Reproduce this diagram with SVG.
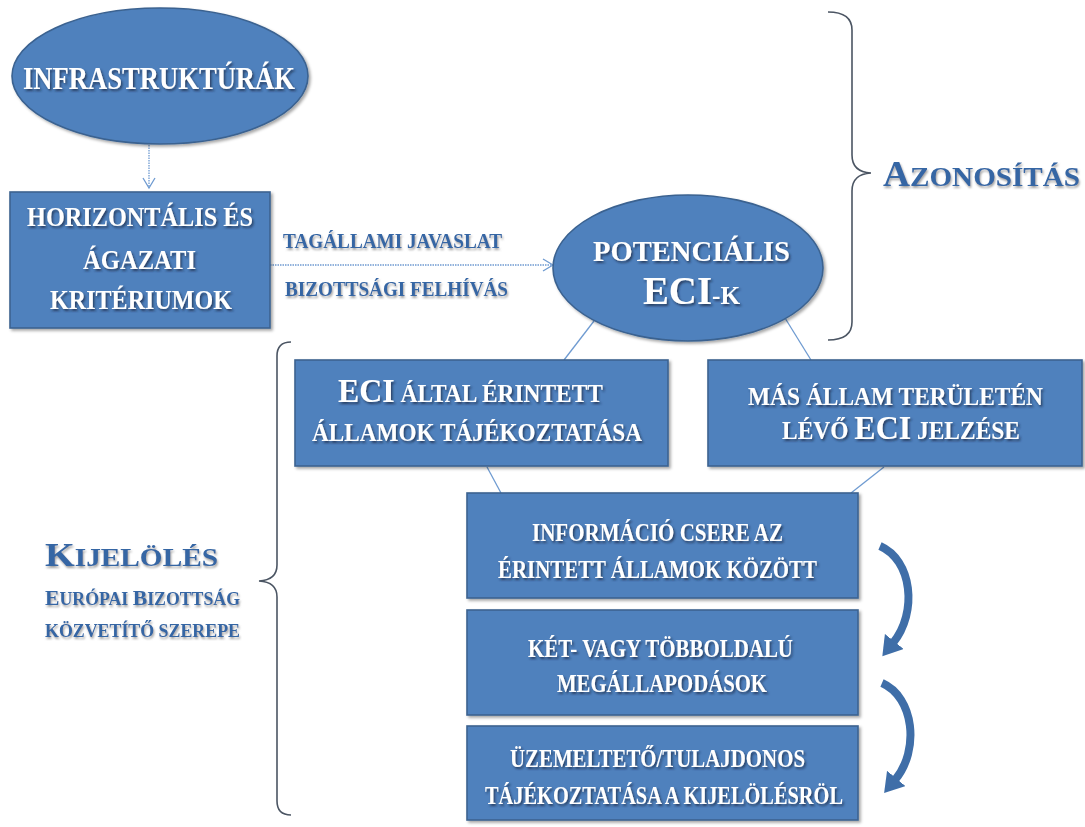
<svg xmlns="http://www.w3.org/2000/svg" width="1085" height="827" viewBox="0 0 1085 827">
<style>
.node{fill:#4f81bd;stroke:#3b6290;stroke-width:1.6}
.wt{fill:#ffffff;font-family:"Liberation Serif",serif;font-weight:bold;filter:url(#tsh)}
.bt{fill:#3566a4;font-family:"Liberation Serif",serif;font-weight:bold;filter:url(#bsh)}
.conn{fill:none;stroke:#6f9bd1;stroke-width:1.3}
.dot{fill:none;stroke:#6f9bd1;stroke-width:1.3;stroke-dasharray:1.5 1}
.brace{fill:none;stroke:#4b5563;stroke-width:1.6}
.curve{fill:none;stroke:#3f6ea8;stroke-width:8}
</style>
<defs>
<filter id="sh" x="-10%" y="-10%" width="130%" height="130%">
<feDropShadow dx="2" dy="2" stdDeviation="1.5" flood-color="#000" flood-opacity="0.35"/>
</filter>
<filter id="tsh" x="-5%" y="-20%" width="115%" height="150%">
<feDropShadow dx="1.5" dy="2" stdDeviation="1" flood-color="#1a2b44" flood-opacity="0.75"/>
</filter>
<filter id="bsh" x="-5%" y="-20%" width="115%" height="150%">
<feDropShadow dx="1" dy="2" stdDeviation="0.8" flood-color="#8a8a8a" flood-opacity="0.8"/>
</filter>
<marker id="open" markerUnits="userSpaceOnUse" markerWidth="14" markerHeight="14" viewBox="0 0 14 14" refX="12" refY="7" orient="auto">
<path d="M2,1 L12,7 L2,13" fill="none" stroke="#6f9bd1" stroke-width="1.3"/>
</marker>
<marker id="cah" markerUnits="userSpaceOnUse" markerWidth="20" markerHeight="24" viewBox="0 0 20 24" refX="2" refY="12" orient="auto">
<path d="M0,0 L19,12 L0,24 z" fill="#3f6ea8"/>
</marker>
</defs>

<g id="connectors">
<path class="dot" d="M149,145 L149,188" marker-end="url(#open)"/>
<path class="dot" d="M270,265 L553,265" marker-end="url(#open)"/>
<path class="conn" d="M594,321 L564,360"/>
<path class="conn" d="M785,318 L811,360"/>
<path class="conn" d="M487,467 L501,493"/>
<path class="conn" d="M884,467 L851,493"/>
<path class="curve" d="M880,546 C912,560 918,612 893,643" marker-end="url(#cah)"/>
<path class="curve" d="M882,683 C914,697 920,750 895,780" marker-end="url(#cah)"/>
<path class="brace" d="M828,12 Q852,12 852,30 L852,155 Q852,172 871,173 Q852,174 852,191 L852,322 Q852,340 828,340"/>
<path class="brace" d="M291,342 Q277,342 277,356 L277,565 Q277,580 259,581 Q277,582 277,597 L277,801 Q277,815 291,815"/>
</g>

<g id="infrastrukturak">
<ellipse class="node" cx="160" cy="76" rx="148" ry="68" filter="url(#sh)"/>
<text class="wt" x="23" y="89" font-size="31" textLength="272" lengthAdjust="spacingAndGlyphs">INFRASTRUKTÚRÁK</text>
</g>

<g id="kriteriumok">
<rect class="node" x="10" y="192" width="260" height="136" filter="url(#sh)"/>
<text class="wt" x="27" y="226" font-size="27" textLength="226" lengthAdjust="spacingAndGlyphs">HORIZONTÁLIS ÉS</text>
<text class="wt" x="83" y="269" font-size="27" textLength="113" lengthAdjust="spacingAndGlyphs">ÁGAZATI</text>
<text class="wt" x="50" y="309" font-size="27" textLength="182" lengthAdjust="spacingAndGlyphs">KRITÉRIUMOK</text>
</g>

<g id="arrow-labels">
<text class="bt" x="283" y="248" font-size="21" textLength="219" lengthAdjust="spacingAndGlyphs">TAGÁLLAMI JAVASLAT</text>
<text class="bt" x="285" y="296" font-size="21" textLength="223" lengthAdjust="spacingAndGlyphs">BIZOTTSÁGI FELHÍVÁS</text>
</g>

<g id="potencialis">
<ellipse class="node" cx="688" cy="268" rx="135" ry="73" filter="url(#sh)"/>
<text class="wt" x="593" y="261" font-size="30" textLength="197" lengthAdjust="spacingAndGlyphs">POTENCIÁLIS</text>
<text class="wt" x="643" y="304" font-size="40" textLength="97" lengthAdjust="spacingAndGlyphs">ECI<tspan font-size="26">-K</tspan></text>
</g>

<g id="azonositas">
<text class="bt" x="883" y="186" font-size="36" textLength="197" lengthAdjust="spacingAndGlyphs">A<tspan font-size="28">ZONOSÍTÁS</tspan></text>
</g>

<g id="kijeloles">
<text class="bt" x="45" y="566" font-size="34" textLength="173" lengthAdjust="spacingAndGlyphs">K<tspan font-size="26">IJELÖLÉS</tspan></text>
<text class="bt" x="45" y="605" font-size="22" textLength="195" lengthAdjust="spacingAndGlyphs">E<tspan font-size="18">URÓPAI </tspan>B<tspan font-size="18">IZOTTSÁG</tspan></text>
<text class="bt" x="45" y="637" font-size="18" textLength="195" lengthAdjust="spacingAndGlyphs">KÖZVETÍTŐ SZEREPE</text>
</g>

<g id="eci-altal">
<rect class="node" x="295" y="360" width="373" height="106" filter="url(#sh)"/>
<text class="wt" x="338" y="402" font-size="34" textLength="265" lengthAdjust="spacingAndGlyphs">ECI<tspan font-size="25"> ÁLTAL ÉRINTETT</tspan></text>
<text class="wt" x="312" y="441" font-size="26" textLength="330" lengthAdjust="spacingAndGlyphs">ÁLLAMOK TÁJÉKOZTATÁSA</text>
</g>

<g id="mas-allam">
<rect class="node" x="708" y="360" width="374" height="106" filter="url(#sh)"/>
<text class="wt" x="748" y="405" font-size="26" textLength="295" lengthAdjust="spacingAndGlyphs">MÁS ÁLLAM TERÜLETÉN</text>
<text class="wt" x="782" y="439" font-size="25" textLength="238" lengthAdjust="spacingAndGlyphs">LÉVŐ <tspan font-size="34">ECI</tspan> JELZÉSE</text>
</g>

<g id="informacio">
<rect class="node" x="467" y="493" width="391" height="105" filter="url(#sh)"/>
<text class="wt" x="532" y="541" font-size="25" textLength="251" lengthAdjust="spacingAndGlyphs">INFORMÁCIÓ CSERE AZ</text>
<text class="wt" x="498" y="578" font-size="25" textLength="319" lengthAdjust="spacingAndGlyphs">ÉRINTETT ÁLLAMOK KÖZÖTT</text>
</g>

<g id="megallapodasok">
<rect class="node" x="467" y="610" width="391" height="105" filter="url(#sh)"/>
<text class="wt" x="528" y="657" font-size="25" textLength="265" lengthAdjust="spacingAndGlyphs">KÉT- VAGY TÖBBOLDALÚ</text>
<text class="wt" x="557" y="692" font-size="25" textLength="210" lengthAdjust="spacingAndGlyphs">MEGÁLLAPODÁSOK</text>
</g>

<g id="tajekoztatas">
<rect class="node" x="467" y="726" width="391" height="94" filter="url(#sh)"/>
<text class="wt" x="510" y="767" font-size="25" textLength="295" lengthAdjust="spacingAndGlyphs">ÜZEMELTETŐ/TULAJDONOS</text>
<text class="wt" x="485" y="804" font-size="25" textLength="358" lengthAdjust="spacingAndGlyphs">TÁJÉKOZTATÁSA A KIJELÖLÉSRÖL</text>
</g>
</svg>
